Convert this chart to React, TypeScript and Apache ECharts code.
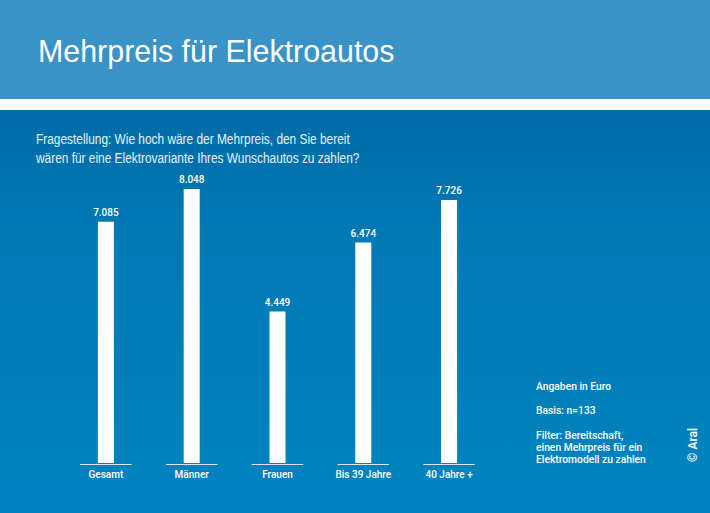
import React, { useEffect, useRef } from "react";
import * as echarts from "echarts";

const categories = ["Gesamt", "Männer", "Frauen", "Bis 39 Jahre", "40 Jahre +"];
const values = [7085, 8048, 4449, 6474, 7726];
const titleText = "Mehrpreis für Elektroautos";
const questionLines = [
  "Fragestellung: Wie hoch wäre der Mehrpreis, den Sie bereit",
  "wären für eine Elektrovariante Ihres Wunschautos zu zahlen?",
];
const noteLines = [
  "Angaben in Euro",
  "",
  "Basis: n=133",
  "",
  "Filter: Bereitschaft,",
  "einen Mehrpreis für ein",
  "Elektromodell zu zahlen",
];

const fmt = (v: number) => {
  const s = String(Math.round(v));
  return s.replace(/\B(?=(\d{3})+(?!\d))/g, ".");
};

export default function App() {
  const ref = useRef<HTMLDivElement>(null);
  useEffect(() => {
    document.body.style.margin = "0";
    const chart = echarts.init(ref.current!, null, { renderer: "svg" });
    const sans = "'Liberation Sans', Roboto, sans-serif";
    const rob = "Roboto, 'Liberation Sans', sans-serif";
    chart.setOption({
      animation: false,
      graphic: [
        { type: "rect", z: -10, shape: { x: 0, y: 0, width: 710, height: 99 }, style: { fill: "#3a93c7" } },
        { type: "rect", z: -10, shape: { x: 0, y: 99, width: 710, height: 11 }, style: { fill: "#ffffff" } },
        {
          type: "rect",
          z: -10,
          shape: { x: 0, y: 110, width: 710, height: 403 },
          style: {
            fill: new echarts.graphic.LinearGradient(0, 0, 0, 1, [
              { offset: 0, color: "#006ca7" },
              { offset: 0.35, color: "#007ab6" },
              { offset: 1, color: "#0084bf" },
            ]),
          },
        },
        {
          type: "text",
          x: 38,
          y: 35,
          scaleX: 0.95,
          style: { text: titleText, fill: "#ffffff", font: `32px ${sans}`, verticalAlign: "top" },
        },
        {
          type: "text",
          x: 36,
          y: 130,
          scaleX: 0.82,
          style: {
            text: questionLines.join("\n"),
            fill: "#e6f1f8",
            font: `14.5px ${sans}`,
            lineHeight: 19,
            verticalAlign: "top",
          },
        },
        {
          type: "text",
          x: 536,
          y: 380,
          style: {
            text: noteLines.join("\n"),
            fill: "#ffffff",
            font: `500 10.3px ${rob}`,
            lineHeight: 12.3,
            verticalAlign: "top",
          },
        },
        {
          type: "text",
          x: 693,
          y: 445,
          rotation: Math.PI / 2,
          style: {
            text: "© Aral",
            fill: "#ffffff",
            font: `500 12px ${rob}`,
            align: "center",
            verticalAlign: "middle",
          },
        },
      ],
      grid: { left: 63, right: 218, top: 122.5, bottom: 50, containLabel: false },
      xAxis: {
        type: "category",
        data: categories,
        axisLine: { show: false },
        axisTick: { show: false },
        axisLabel: { color: "#ffffff", fontSize: 10, fontWeight: 500, fontFamily: rob, margin: 6 },
      },
      yAxis: {
        type: "value",
        min: 0,
        max: 10000,
        show: false,
        splitLine: { show: false },
      },
      series: [
        {
          type: "bar",
          data: values,
          barWidth: 16,
          itemStyle: { color: "#ffffff" },
          label: {
            show: true,
            position: "top",
            distance: 4,
            color: "#ffffff",
            fontSize: 10,
            fontWeight: 500,
            fontFamily: rob,
            formatter: (p: any) => fmt(p.value),
          },
        },
        {
          type: "custom",
          data: categories.map((_, i) => [i, 0]),
          renderItem: (params: any, api: any) => {
            const pt = api.coord([api.value(0), 0]);
            const w = api.size([1, 0])[0] * 0.6;
            return {
              type: "line",
              shape: { x1: pt[0] - w / 2, y1: pt[1] + 1.5, x2: pt[0] + w / 2, y2: pt[1] + 1.5 },
              style: { stroke: "#d6eaf5", lineWidth: 1 },
            };
          },
          silent: true,
        },
      ],
    });
    return () => chart.dispose();
  }, []);
  return <div ref={ref} style={{ width: 710, height: 513 }} />;
}
